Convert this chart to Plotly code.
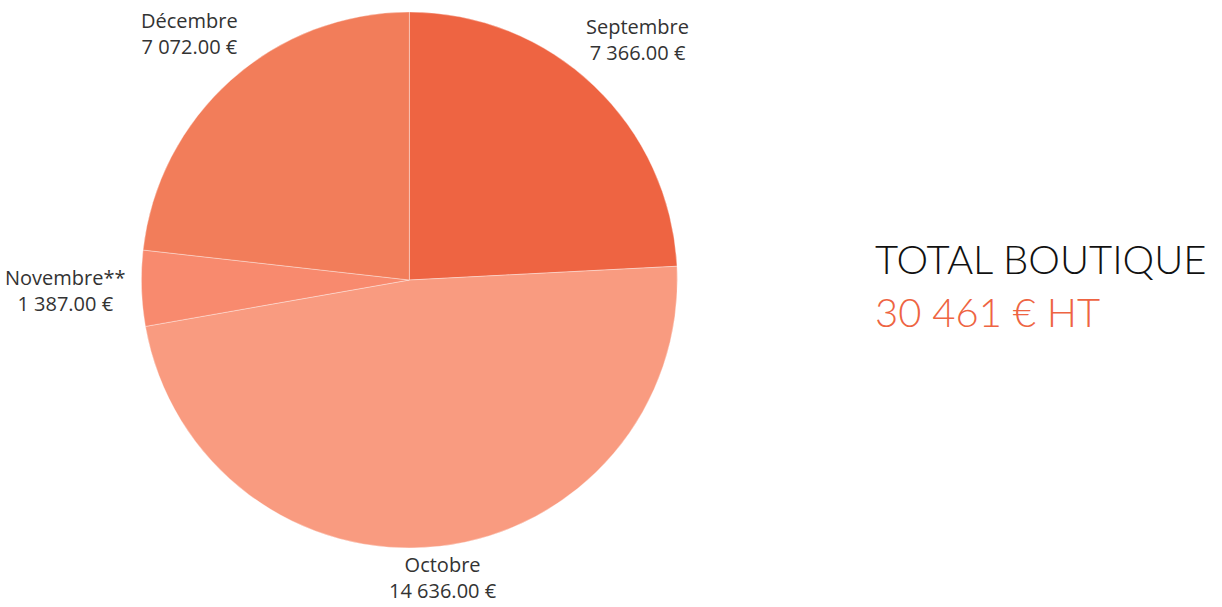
import math
import plotly.graph_objects as go

# Chiffre d'affaires mensuel de la boutique (€ HT)
mois = ["Septembre", "Octobre", "Novembre**", "Décembre"]
montants = [7366.00, 14636.00, 1387.00, 7072.00]
couleurs = ["#EE6442", "#F99B80", "#F88A6E", "#F27D5A"]

W, H = 1222, 607
MARGE = dict(l=0, r=0, t=12, b=59)
DOMAINE_X = [0, 0.67]
TAILLE_LABEL = 20

total = sum(montants)
total_txt = f"{total:,.0f}".replace(",", " ") + " € HT"


def euros(v):
    return f"{v:,.2f}".replace(",", " ") + " €"


fig = go.Figure(
    go.Pie(
        labels=mois,
        values=montants,
        sort=False,
        direction="clockwise",
        rotation=0,
        marker=dict(colors=couleurs, line=dict(color="rgba(255,255,255,0.35)", width=1)),
        textinfo="none",
        domain=dict(x=DOMAINE_X, y=[0, 1]),
        showlegend=False,
        hoverinfo="label+value",
    )
)

# Étiquettes extérieures placées autour du camembert, au milieu de chaque part
plot_w = W - MARGE["l"] - MARGE["r"]
plot_h = H - MARGE["t"] - MARGE["b"]
rayon = min(plot_w * (DOMAINE_X[1] - DOMAINE_X[0]), plot_h) / 2
cx = (DOMAINE_X[0] + DOMAINE_X[1]) / 2
ecart = 16
cumul = 0.0
for nom, v in zip(mois, montants):
    theta = (cumul + v / 2) / total * 2 * math.pi
    cumul += v
    lignes = [nom, euros(v)]
    demi_l = 0.5 * max(len(s) for s in lignes) * 0.6 * TAILLE_LABEL
    demi_h = 8
    d = rayon + ecart + abs(demi_l * math.sin(theta)) + abs(demi_h * math.cos(theta))
    dx = d * math.sin(theta)
    dy = d * math.cos(theta)
    fig.add_annotation(
        text="<br>".join(lignes),
        x=cx + dx / plot_w, y=0.5 + dy / plot_h,
        xref="paper", yref="paper", xanchor="center", yanchor="middle",
        showarrow=False, align="center",
        font=dict(family="Open Sans", size=TAILLE_LABEL, color="#333333"),
    )

fig.add_annotation(
    text="TOTAL BOUTIQUE", x=0.714, y=0.539, xref="paper", yref="paper",
    xanchor="left", yanchor="middle", showarrow=False,
    font=dict(family="Lato", size=40, color="#111111", weight=300),
)
fig.add_annotation(
    text=total_txt, x=0.714, y=0.440, xref="paper", yref="paper",
    xanchor="left", yanchor="middle", showarrow=False,
    font=dict(family="Lato", size=40, color="#EE6442", weight=300),
)

fig.update_layout(
    width=W, height=H,
    margin=dict(**MARGE, autoexpand=False),
    paper_bgcolor="white", plot_bgcolor="white",
)

fig.write_html("out.html")
